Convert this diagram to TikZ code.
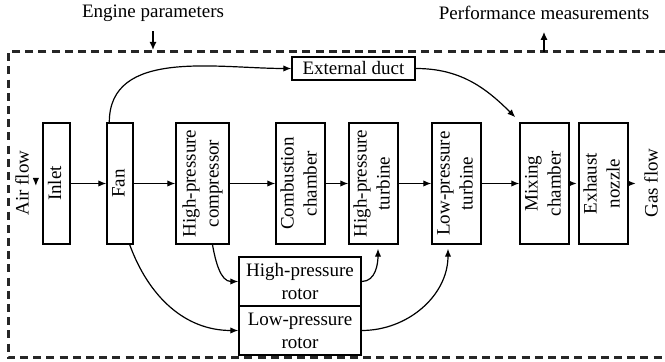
\documentclass[tikz,border=0pt]{standalone}
\usepackage{fontspec}
\setmainfont{Liberation Serif}
\usetikzlibrary{arrows.meta}
\newcommand{\vlabel}[1]{\rotatebox{90}{\begin{tabular}{@{}c@{}}#1\end{tabular}}}

\begin{document}
\begin{tikzpicture}[x=0.5pt,y=-0.5pt,
  box/.style={draw,line width=0.7pt,minimum height=60.5pt,inner sep=0pt},
  flow/.style={-{Latex[length=4pt,width=3.2pt]},line width=0.6pt},
  pflow/.style={-{Latex[length=4pt,width=3.6pt]},line width=1.1pt}]
\tikzstyle{every node}=[font=\fontsize{9.5}{11.5}\selectfont]
\useasboundingbox (0,0) rectangle (665,362);
% frame
\draw[line width=1.5pt,black!85,dash pattern=on 4pt off 2.6pt](680,52) -| (8,358) -- (680,358);
% main line
\node[box,minimum width=13.5pt] (inlet) at (56.5,183.5) {\vlabel{Inlet}};
\node[box,minimum width=13pt] (fan) at (120,183.5) {\vlabel{Fan}};
\node[box,minimum width=26.5pt] (hpc) at (202.5,183.5) {\vlabel{High-pressure\\compressor}};
\node[box,minimum width=24.5pt] (cc) at (300.5,183.5) {\vlabel{Combustion\\chamber}};
\node[box,minimum width=24.5pt] (hpt) at (373.5,183.5) {\vlabel{High-pressure\\turbine}};
\node[box,minimum width=24.5pt] (lpt) at (456.5,183.5) {\vlabel{Low-pressure\\turbine}};
\node[box,minimum width=24.5pt] (mix) at (544.5,183.5) {\vlabel{Mixing\\chamber}};
\node[box,minimum width=24.5pt] (exh) at (603.5,183.5) {\vlabel{Exhaust\\nozzle}};
\node (air) at (22,183) {\rotatebox{90}{Air flow}};
\node (gas) at (651,183) {\rotatebox{90}{Gas flow}};
% duct and rotors
\node[box,minimum width=61.5pt,minimum height=11.5pt] (ext) at (353.5,68.5) {External duct};
\node[box,minimum width=61pt,minimum height=24.5pt,align=center] (hpr) at (300,281.5) {High-pressure\\rotor};
\node[box,minimum width=61pt,minimum height=24.5pt,align=center] (lpr) at (300,330.5) {Low-pressure\\rotor};
% inputs and outputs
\node (engine) at (153,13) {Engine parameters};
\node (perf) at (544,13) {Performance measurements};
\coordinate (param) at (153,50);
\coordinate (meas) at (544,52);
\draw[pflow,shorten <=1.5pt] (engine) -- (param);
\draw[pflow,shorten >=2.5pt] (meas) -- (perf);

\draw[flow] ([shift={(0,-4)}]air.east) -- ++(0,7);
\draw[flow] (inlet) -- (fan);
\draw[flow] (fan) -- (hpc);
\draw[flow] (hpc) -- (cc);
\draw[flow] (cc) -- (hpt);
\draw[flow] (hpt) -- (lpt);
\draw[flow] (lpt) -- (mix);
\draw[flow] (mix.east) -- ++(7,0);
\draw[flow] (exh.east) -- ++(7,0);

\draw[flow] ([xshift=1.5pt]fan.north west) to[out=90,in=180] (ext.west);
\draw[flow] (ext.east) to[out=0,in=135] ([shift={(-4,-5)}]mix.north west);
\draw[flow] ([xshift=5pt]hpc.south) to[out=-80,in=180] (hpr.west);
\draw[flow] ([xshift=-2pt]fan.south east) to[out=-70,in=180] (lpr.west);
\draw[flow] (hpr.east) to[out=0,in=-90] ([shift={(4.5,4)}]hpt.south);
\draw[flow] (lpr.east) to[out=0,in=-90] ([shift={(-8.5,4)}]lpt.south);
\end{tikzpicture}
\end{document}
